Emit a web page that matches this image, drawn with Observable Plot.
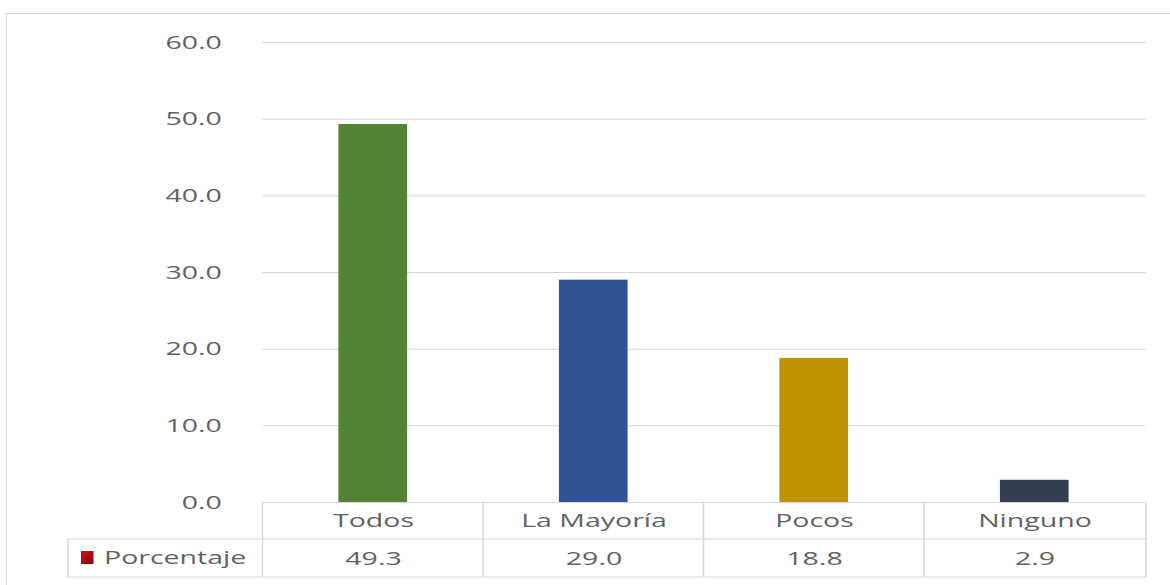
<!DOCTYPE html>
<html><head><meta charset="utf-8">
<script src="https://cdn.jsdelivr.net/npm/d3@7"></script>
<script src="https://cdn.jsdelivr.net/npm/@observablehq/plot@0.6"></script>
<style>
body{margin:0;background:#fff;}
#wrap{position:relative;width:1170px;height:585px;overflow:hidden;background:#fff;}
#frame{position:absolute;left:6px;top:13px;width:1180px;height:600px;border-left:1.5px solid #d9d9d9;border-top:1.5px solid #d9d9d9;}
#chart{position:absolute;left:0;top:0;}
</style></head><body>
<div id="wrap"><div id="frame"></div><div id="chart"></div></div>
<script>
const categories = ["Todos", "La Mayoría", "Pocos", "Ninguno"];
const values = [49.3, 29.0, 18.8, 2.9];
const colors = ["#548235", "#2F5597", "#BF9000", "#333F50"];
const yTicks = [0, 10, 20, 30, 40, 50, 60];
const seriesName = "Porcentaje";

const data = categories.map((c, i) => ({cat: c, value: values[i], color: colors[i], label: values[i].toFixed(1)}));

const S = 1.5;            // horizontal stretch of the reference image
const W = 1170 / S, H = 585;
const mL = 262 / S, mR = (1170 - 1146) / S, mT = 42, mB = 83;
const font = "'Open Sans', sans-serif";
const textColor = "#626262";
const lineColor = "#d6d6d6";

const chart = Plot.plot({
  width: W, height: H,
  marginLeft: mL, marginRight: mR, marginTop: mT, marginBottom: mB,
  style: {fontFamily: font, fontSize: "19px", color: textColor, background: "transparent"},
  x: {domain: categories, padding: 0, axis: null},
  y: {domain: [0, 60], axis: null},
  color: {type: "identity"},
  marks: [
    Plot.gridY(yTicks.filter(t => t > 0), {stroke: lineColor, strokeOpacity: 1, strokeWidth: 1}),
    Plot.axisY(yTicks, {tickSize: 0, tickPadding: (262 - 221) / S, tickFormat: d => d.toFixed(1), fill: textColor, fontSize: 19, label: null}),
    Plot.barY(data, {x: "cat", y: "value", fill: "color", insetLeft: 50.6, insetRight: 50.6}),
    Plot.ruleY([0], {stroke: lineColor, strokeWidth: 1}),
    Plot.text(data, {x: "cat", text: "cat", frameAnchor: "bottom", lineAnchor: "middle", dy: 18, fill: textColor, fontSize: 19}),
    Plot.text(data, {x: "cat", text: "label", frameAnchor: "bottom", lineAnchor: "middle", dy: 56, fill: textColor, fontSize: 19})
  ]
});

// table grid lines, positioned from the x band scale
const xs = chart.scale("x");
const svg = d3.select(chart);
const g = svg.append("g").attr("stroke", lineColor).attr("stroke-width", 1).attr("fill", "none");
const yTop = H - mB, yMid = H - mB + 37, yBot = H - mB + 75;
const tableLeft = 68 / S, right = W - mR;
g.append("line").attr("x1", tableLeft).attr("x2", right).attr("y1", yMid).attr("y2", yMid);
g.append("line").attr("x1", tableLeft).attr("x2", right).attr("y1", yBot).attr("y2", yBot);
g.append("line").attr("x1", tableLeft).attr("x2", tableLeft).attr("y1", yMid).attr("y2", yBot);
categories.forEach(c => {
  const x0 = xs.apply(c);
  g.append("line").attr("x1", x0).attr("x2", x0).attr("y1", yTop).attr("y2", yBot);
});
g.append("line").attr("x1", right).attr("x2", right).attr("y1", yTop).attr("y2", yBot);

// series legend key in the table
const defs = svg.append("defs");
const grad = defs.append("linearGradient").attr("id", "redgrad").attr("x1", 0).attr("y1", 0).attr("x2", 1).attr("y2", 1);
grad.append("stop").attr("offset", "0%").attr("stop-color", "#d0101a");
grad.append("stop").attr("offset", "100%").attr("stop-color", "#8a0008");
svg.append("rect").attr("x", 81 / S).attr("y", 551).attr("width", 12.5 / S).attr("height", 13).attr("fill", "url(#redgrad)");
svg.append("text").attr("x", 104 / S).attr("y", (yMid + yBot) / 2).attr("dy", "0.32em")
  .attr("text-anchor", "start")
  .attr("fill", textColor).attr("font-size", 19).attr("font-family", font).text(seriesName);

// stretch horizontally like the reference
chart.setAttribute("viewBox", `0 0 ${W} ${H}`);
chart.setAttribute("preserveAspectRatio", "none");
chart.setAttribute("width", 1170);
chart.setAttribute("height", 585);
chart.style.width = "1170px";
chart.style.height = "585px";
chart.style.maxWidth = "none";
document.getElementById("chart").appendChild(chart);
</script>
</body></html>
